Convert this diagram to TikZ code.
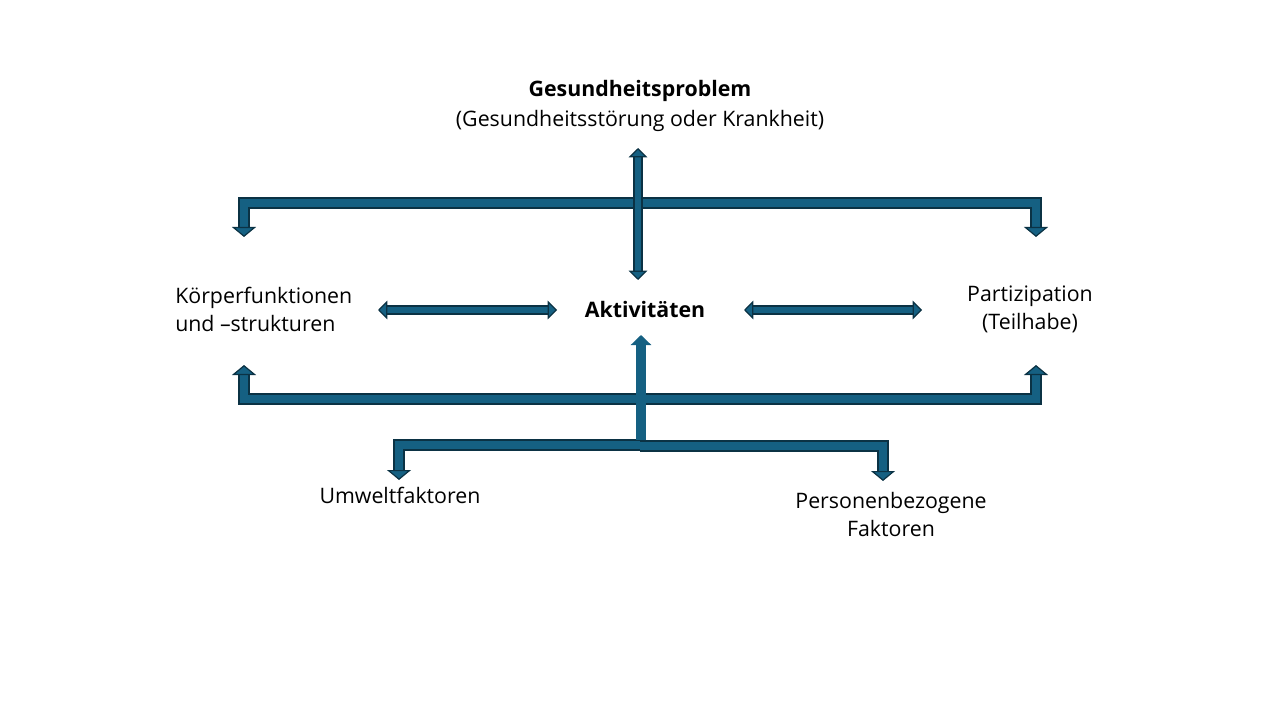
\documentclass[tikz,border=0pt]{standalone}
\usepackage{fontspec}
\setmainfont{Open Sans}
\usetikzlibrary{arrows.meta,positioning}
\definecolor{icffill}{HTML}{156082}
\definecolor{icfline}{HTML}{0B3244}
\tikzset{
  icftext/.style={font=\fontsize{16}{21}\selectfont, align=center, inner sep=0pt},
  icfbold/.style={icftext, font=\fontsize{16}{21}\selectfont\bfseries},
  icfshaft/.style={draw=icfline, line width=0.9pt, double=icffill, double distance=5pt, line join=miter},
  icfbar/.style={draw=icfline, line width=0.9pt, double=icffill, double distance=6.6pt, line join=miter},
  icfplain/.style={draw=icffill, line width=7.5pt},
  shafttip/.tip={Triangle[width=14pt,length=7pt,fill=icffill,line width=0.9pt]},
  bartip/.tip={Triangle[width=18pt,length=7.5pt,fill=icffill,line width=0.9pt]},
}
\begin{document}
\begin{tikzpicture}[x=0.75pt,y=-0.75pt]
  \useasboundingbox (0,0) rectangle (1280,720);

  % Health problem
  \node[icfbold] (gp) at (640,91) {Gesundheitsproblem};
  \node[icftext] (gps) at (640,121) {(Gesundheitsstörung oder Krankheit)};

  % middle row
  \node[icftext, align=left, anchor=west] (kf) at (175,309) {Körperfunktionen\\und --strukturen};
  \node[icfbold] (akt) at (645,309) {Aktivitäten};
  \node[icftext] (par) at (1030,309) {Partizipation\\(Teilhabe)};

  % context factors
  \node[icftext] (uf) at (400,495) {Umweltfaktoren};
  \node[icftext] (pf) at (891,514) {Personenbezogene\\Faktoren};

  % arrow ends
  \coordinate (gpend) at (638,148);
  \coordinate (aktup) at (638,280);
  \coordinate (kfr) at (378,310);
  \coordinate (aktl) at (557,310);
  \coordinate (aktr) at (744,310);
  \coordinate (parl) at (922,310);
  \coordinate (kftop) at (244,237);
  \coordinate (partop) at (1036,237);
  \coordinate (topbar) at (640,203);
  \coordinate (kfbot) at (244,365);
  \coordinate (parbot) at (1036,365);
  \coordinate (botbar) at (640,399);
  \coordinate (aktdown) at (641,335);
  \coordinate (fork) at (641,440);
  \coordinate (ufleft) at (641,445);
  \coordinate (uftop) at (399,480);
  \coordinate (pfright) at (640,446);
  \coordinate (pftop) at (883,481);

  % brackets
  \draw[icfbar, bartip-bartip] (kftop) |- (topbar) -| (partop);
  \draw[icfbar, bartip-bartip] (kfbot) |- (botbar) -| (parbot);

  % double arrows
  \draw[icfshaft, shafttip-shafttip] (gpend) -- (aktup);
  \draw[icfshaft, shafttip-shafttip] (kfr) -- (aktl);
  \draw[icfshaft, shafttip-shafttip] (aktr) -- (parl);

  % context factors
  \draw[icfbar, -bartip] (ufleft) -| (uftop);
  \draw[icfbar, -bartip] (pfright) -| (pftop);
  \draw[icfplain, -{Triangle[width=15pt,length=7.5pt]}] (fork) -- (aktdown);
\end{tikzpicture}
\end{document}
